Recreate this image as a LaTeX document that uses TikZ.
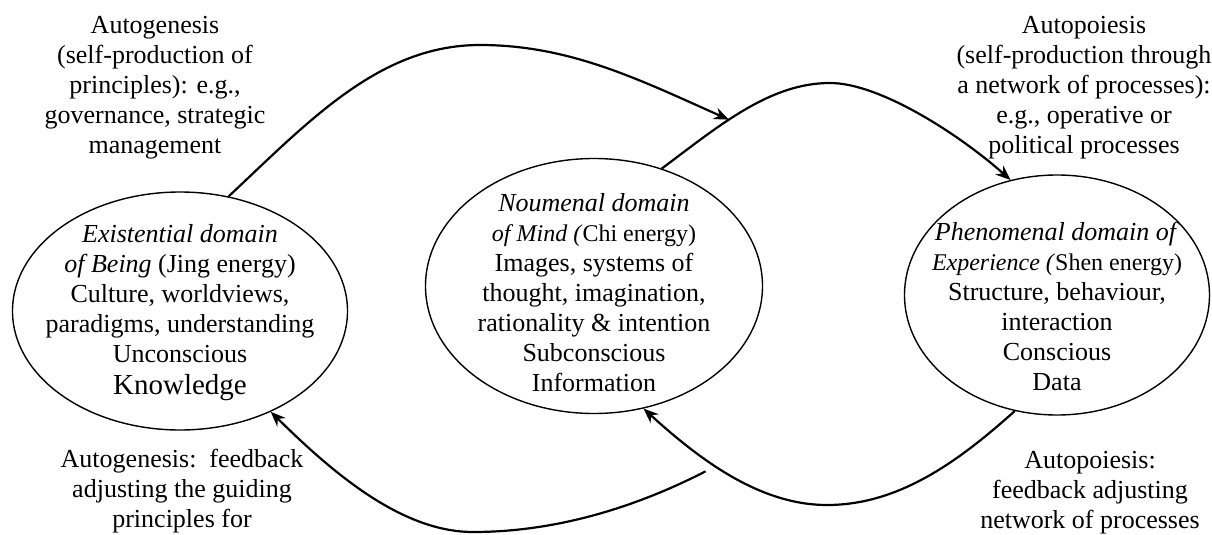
\documentclass[tikz,border=0pt]{standalone}
\usepackage{fontspec}
\setmainfont{Liberation Serif}
\usetikzlibrary{shapes.geometric,arrows.meta}

\begin{document}
\begin{tikzpicture}[x=1pt,y=-1pt,
  dombox/.style={ellipse,draw,line width=1.4pt,inner sep=0pt},
  txt/.style={align=center,inner sep=0pt,font=\fontsize{26}{30}\selectfont},
  flow/.style={line width=2.2pt,-{Stealth[length=15pt,width=12pt,inset=5pt]}},
  ]
\useasboundingbox (0,0) rectangle (1212,535);

% the three domains
\node[dombox,minimum width=335pt,minimum height=238pt] (L) at (180,311) {};
\node[dombox,minimum width=337pt,minimum height=255pt] (M) at (594,286) {};
\node[dombox,minimum width=305pt,minimum height=240pt] (R) at (1057,295) {};

\node[txt] (Ltext) at (180,312) {\strut\textit{Existential domain}\\
  \textit{of Being} (Jing energy)\\ Culture, worldviews,\\
  paradigms, understanding\\ Unconscious\\[2pt]
  {\fontsize{29}{32}\selectfont Knowledge}\strut};
\node[txt] (Mtext) at (594,295) {\strut\textit{Noumenal domain}\\
  {\fontsize{24}{30}\selectfont\textit{of Mind (}Chi energy)}\\
  Images, systems of\\ thought, imagination,\\ rationality \& intention\\
  Subconscious\\ Information\strut};
\node[txt] (Rtext) at (1057,309) {\strut\textit{Phenomenal domain of}\\
  {\fontsize{24}{30}\selectfont\textit{Experience (}Shen energy)}\\
  Structure, behaviour,\\ interaction\\ Conscious\\ Data\strut};

% loop labels
\node[txt] (tl) at (155,87) {\strut Autogenesis\\ (self-production of\\
  principles): e.g.,\\ governance, strategic\\ management\strut};
\node[txt] (tr) at (1084,87) {\strut Autopoiesis\\ (self-production through\\
  a network of processes):\\ e.g., operative or\\ political processes\strut};
\node[txt] (bl) at (182,491) {\strut Autogenesis:\ \ feedback\\
  adjusting the guiding\\ principles for\strut};
\node[txt] (br) at (1090,492) {\strut Autopoiesis:\\
  feedback adjusting\\ network of processes\strut};

% forward flows
\draw[flow] (M.60) .. controls (720,125) and (770,83) .. (830,83)
  coordinate[pos=0.4] (join)
  .. controls (880,83) and (960,135) .. (R.112);
\draw[flow] (L.67) .. controls (310,120) and (380,45) .. (480,45)
  .. controls (570,45) and (640,80) .. (join);

% feedback flows
\draw[flow] (R.250) .. controls (960,460) and (900,505) .. (827,505)
  .. controls (760,505) and (700,460) .. (M.292)
  coordinate[pos=0.62] (fork);
\draw[flow] ([shift={(-4,9)}]fork) .. controls (640,505) and (560,532) .. (473,532)
  .. controls (400,532) and (330,470) .. (L.312);
\end{tikzpicture}
\end{document}
